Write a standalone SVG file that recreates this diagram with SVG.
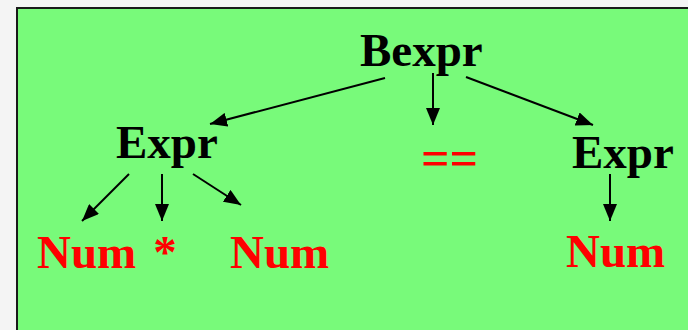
<svg xmlns="http://www.w3.org/2000/svg" width="688" height="330" viewBox="0 0 688 330">
<defs>
<style>
.bg{fill:#f4f4f4}
.box{fill:#78fa7a;stroke:#1a1a1a;stroke-width:2}
.nt{font-family:"Liberation Serif","Times New Roman",serif;font-weight:bold;font-size:47px;fill:#000}
.t{font-family:"Liberation Serif","Times New Roman",serif;font-weight:bold;font-size:47px;fill:#ff0000}
.edge{stroke:#000;stroke-width:2;fill:none;marker-end:url(#ah)}
</style>
<marker id="ah" viewBox="0 0 17 14" refX="17" refY="7" markerWidth="17" markerHeight="14" markerUnits="userSpaceOnUse" orient="auto">
<path d="M0,0 L17,7 L0,14 z" fill="#000"/>
</marker>
</defs>
<rect class="bg" x="0" y="0" width="688" height="330"/>
<rect class="box" x="17" y="8" width="690" height="340"/>
<g id="connectors">
<line class="edge" x1="385" y1="78" x2="210" y2="124"/>
<line class="edge" x1="433" y1="73" x2="433" y2="125"/>
<line class="edge" x1="466" y1="77" x2="593" y2="125"/>
<line class="edge" x1="129" y1="174" x2="82" y2="221"/>
<line class="edge" x1="162" y1="174" x2="162" y2="221"/>
<line class="edge" x1="193" y1="174" x2="241" y2="205"/>
<line class="edge" x1="610" y1="174" x2="610" y2="221"/>
</g>
<g id="bexpr"><text class="nt" x="360" y="66">Bexpr</text></g>
<g id="expr-left"><text class="nt" x="116" y="158">Expr</text></g>
<g id="eq"><text class="t" x="421" y="175" style="font-size:50px">==</text></g>
<g id="expr-right"><text class="nt" x="572" y="168">Expr</text></g>
<g id="num1"><text class="t" x="37" y="268">Num</text></g>
<g id="star"><text class="t" x="165" y="268" text-anchor="middle">*</text></g>
<g id="num2"><text class="t" x="230" y="268">Num</text></g>
<g id="num3"><text class="t" x="566" y="267">Num</text></g>
</svg>
